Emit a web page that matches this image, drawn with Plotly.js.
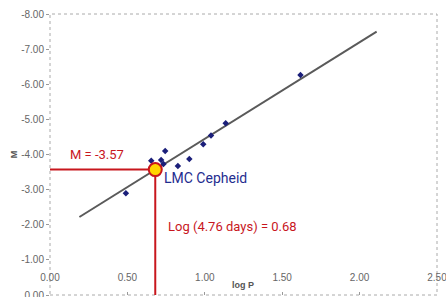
<!DOCTYPE html>
<html>
<head>
<meta charset="utf-8">
<script src="https://cdn.plot.ly/plotly-3.0.1.min.js"></script>
<style>html,body{margin:0;padding:0;background:#fff;}#chart{width:446px;height:297px;}</style>
</head>
<body>
<div id="chart"></div>
<script>
// Cepheid data (log P, absolute magnitude M)
const logP = [0.49, 0.654, 0.718, 0.733, 0.744, 0.826, 0.90, 0.99, 1.04, 1.135, 1.618];
const magM = [-2.90, -3.82, -3.84, -3.73, -4.10, -3.67, -3.87, -4.29, -4.54, -4.89, -6.26];
// Fitted period-luminosity line endpoints
const fitX = [0.19, 2.11];
const fitY = [-2.22, -7.50];
// LMC Cepheid
const lmcLogP = [0.68];
const lmcM = [-3.57];
// Axis ticks
const yTickVals = [-8, -7, -6, -5, -4, -3, -2, -1, 0];
const yTickText = ['-8.00', '-7.00', '-6.00', '-5.00', '-4.00', '-3.00', '-2.00', '-1.00', '0.00'];
const xTickVals = [0, 0.5, 1, 1.5, 2, 2.5];
const xTickText = ['0.00', '0.50', '1.00', '1.50', '2.00', '2.50'];

const red = '#c8161d';
const traces = [
  {x: fitX, y: fitY, mode: 'lines', line: {color: '#5a5a5a', width: 2}, hoverinfo: 'skip'},
  {x: [0, lmcLogP[0]], y: [lmcM[0], lmcM[0]], mode: 'lines', line: {color: red, width: 2}},
  {x: [lmcLogP[0], lmcLogP[0]], y: [lmcM[0], 0], mode: 'lines', line: {color: red, width: 2}},
  {x: logP, y: magM, mode: 'markers', marker: {symbol: 'diamond', size: 5, color: '#1b1f7a'}},
  {x: lmcLogP, y: lmcM, mode: 'markers', marker: {size: 13, color: '#ffd400', line: {color: red, width: 2}}},
  {x: [0, 2.5], y: [0, 0], xaxis: 'x2', mode: 'markers', marker: {opacity: 0}, hoverinfo: 'skip'}
];

const layout = {
  width: 446, height: 297,
  margin: {l: 50, r: 9, t: 14, b: 2},
  showlegend: false,
  paper_bgcolor: '#fff', plot_bgcolor: '#fff',
  font: {family: 'Liberation Sans, Arial, sans-serif', size: 9, color: '#666'},
  xaxis: {
    range: [0, 2.5], tickvals: xTickVals, ticktext: xTickText,
    anchor: 'free', position: 0.088, ticks: '', ticklabeloverflow: 'allow',
    showgrid: false, zeroline: false, showline: false,
    tickfont: {size: 10, color: '#666'}
  },
  xaxis2: {
    range: [0, 2.5], overlaying: 'x', anchor: 'y', side: 'bottom',
    tickvals: xTickVals, showticklabels: false,
    ticks: 'inside', ticklen: 3, tickcolor: '#999',
    showgrid: false, zeroline: false, showline: false
  },
  yaxis: {
    range: [0, -8], tickvals: yTickVals, ticktext: yTickText,
    ticks: 'outside', ticklen: 3, tickcolor: '#999', ticklabeloverflow: 'allow',
    showgrid: false, zeroline: false, showline: false,
    tickfont: {size: 10, color: '#666'},
    title: {text: '<b>M</b>', font: {size: 9, color: '#555'}, standoff: 2}
  },
  shapes: [
    {type: 'rect', xref: 'paper', yref: 'paper', x0: 0, x1: 1, y0: 0, y1: 1,
     line: {color: '#aaa', width: 1, dash: 'dot'}, layer: 'below'}
  ],
  annotations: [
    {x: 0.306, y: -3.99, text: 'M = -3.57', showarrow: false, xanchor: 'center', yanchor: 'middle',
     font: {family: 'Roboto', size: 13, color: red}},
    {x: 0.725, y: -3.33, text: 'LMC Cepheid', showarrow: false, xanchor: 'left', yanchor: 'middle',
     font: {family: 'Roboto', size: 14, color: '#1f2d8f'}},
    {x: 0.75, y: -1.94, text: 'Log (4.76 days) = 0.68', showarrow: false, xanchor: 'left', yanchor: 'middle',
     font: {family: 'Roboto', size: 13, color: red}},
    {x: 1.247, y: -0.29, text: '<b>log P</b>', showarrow: false, xanchor: 'center', yanchor: 'middle',
     font: {family: 'Liberation Sans', size: 9, color: '#555'}}
  ]
};

Plotly.newPlot('chart', traces, layout, {displayModeBar: false, staticPlot: true});
</script>
</body>
</html>
